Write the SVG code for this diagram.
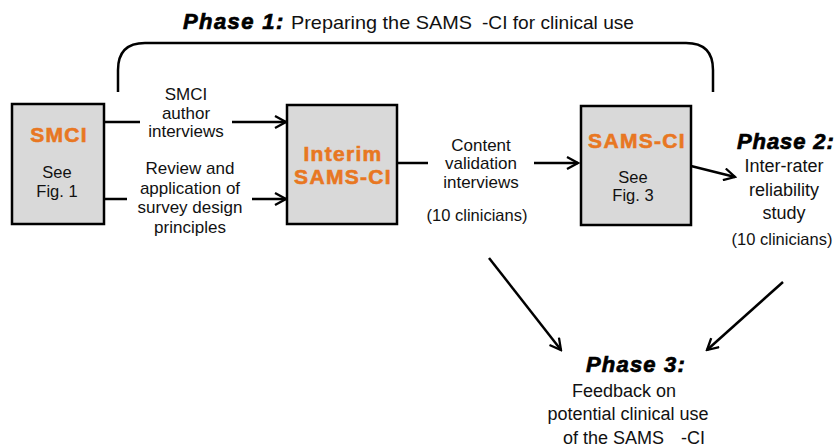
<svg xmlns="http://www.w3.org/2000/svg" width="837" height="448" viewBox="0 0 837 448">
<defs>
<style>
.box{fill:#d9d9d9;stroke:#000;stroke-width:2.5}
.t{font-family:"Liberation Sans",Arial,sans-serif;font-size:17px;fill:#111;text-anchor:middle}
.s{font-size:16.5px}
.o{font-family:"Liberation Sans",Arial,sans-serif;font-weight:bold;font-size:21px;fill:#e87722;stroke:#e87722;stroke-width:0.6;letter-spacing:1.3px;text-anchor:middle}
.ph{font-family:"Liberation Sans",Arial,sans-serif;font-weight:bold;font-style:italic;font-size:22px;fill:#000;stroke:#000;stroke-width:0.7;letter-spacing:1.4px}
.ln{stroke:#000;stroke-width:2.5;fill:none}
.pl{font-family:"Liberation Sans",Arial,sans-serif;fill:#111}
</style>
<marker id="ah" viewBox="0 0 14 14" refX="12" refY="7" markerWidth="14" markerHeight="14" markerUnits="userSpaceOnUse" orient="auto">
<path d="M1,1 L12,7 L1,13" fill="none" stroke="#000" stroke-width="2.3"/>
</marker>
</defs>

<g id="title">
<text x="183" y="29" class="ph">Phase 1:</text>
<text y="29" class="pl" style="font-size:19px"><tspan x="291" textLength="181" lengthAdjust="spacingAndGlyphs">Preparing the SAMS</tspan><tspan x="482" textLength="152" lengthAdjust="spacingAndGlyphs">-CI for clinical use</tspan></text>
</g>

<g id="connectors">
<path class="ln" d="M118,92 L118,70 Q118,43 145,43 L686,43 Q713,43 713,70 L713,92"/>
<line class="ln" x1="104" y1="122" x2="140" y2="122"/>
<line class="ln" x1="232" y1="122" x2="286" y2="122" marker-end="url(#ah)"/>
<line class="ln" x1="104" y1="199" x2="127" y2="199"/>
<line class="ln" x1="252" y1="199" x2="286" y2="199" marker-end="url(#ah)"/>
<line class="ln" x1="397" y1="163" x2="428" y2="163"/>
<line class="ln" x1="534" y1="163" x2="578" y2="163" marker-end="url(#ah)"/>
<line class="ln" x1="691" y1="166" x2="735" y2="177" marker-end="url(#ah)"/>
<line class="ln" x1="489" y1="258" x2="561" y2="350" marker-end="url(#ah)"/>
<line class="ln" x1="783" y1="282" x2="707" y2="350" marker-end="url(#ah)"/>
</g>

<g id="labels">
<text class="t" x="186" y="100">SMCI</text>
<text class="t" x="186" y="119">author</text>
<text class="t" x="186" y="137">interviews</text>
<text class="t" x="190" y="174">Review and</text>
<text class="t" x="190" y="194">application of</text>
<text class="t" x="190" y="213">survey design</text>
<text class="t" x="190" y="233">principles</text>
<text class="t" x="481" y="151">Content</text>
<text class="t" x="481" y="169">validation</text>
<text class="t" x="481" y="188">interviews</text>
<text class="t s" x="477" y="221">(10 clinicians)</text>
</g>

<g id="smci">
<rect class="box" x="12" y="104" width="92" height="120"/>
<text class="o" x="59" y="142">SMCI</text>
<text class="t s" x="57" y="178">See</text>
<text class="t s" x="57" y="197">Fig. 1</text>
</g>

<g id="interim">
<rect class="box" x="287" y="105" width="110" height="119"/>
<text class="o" x="343" y="161">Interim</text>
<text class="o" x="343" y="184">SAMS-CI</text>
</g>

<g id="samsci">
<rect class="box" x="581" y="106" width="110" height="119"/>
<text class="o" x="637" y="148">SAMS-CI</text>
<text class="t s" x="633" y="183">See</text>
<text class="t s" x="633" y="201">Fig. 3</text>
</g>

<g id="phase2">
<text class="ph" x="737" y="149" style="letter-spacing:0.9px">Phase 2:</text>
<text class="t" x="784" y="172" style="font-size:18px">Inter-rater</text>
<text class="t" x="784" y="196" style="font-size:18px">reliability</text>
<text class="t" x="784" y="219" style="font-size:18px">study</text>
<text class="t s" x="782" y="245">(10 clinicians)</text>
</g>

<g id="phase3">
<text class="ph" x="636" y="372" text-anchor="middle" style="letter-spacing:1.2px">Phase 3:</text>
<text class="t" x="624" y="397" style="font-size:18px">Feedback on</text>
<text class="t" x="628" y="420" style="font-size:18px">potential clinical use</text>
<text y="444" class="pl" style="font-size:18px"><tspan x="563">of the SAMS</tspan><tspan x="681">-CI</tspan></text>
</g>
</svg>
